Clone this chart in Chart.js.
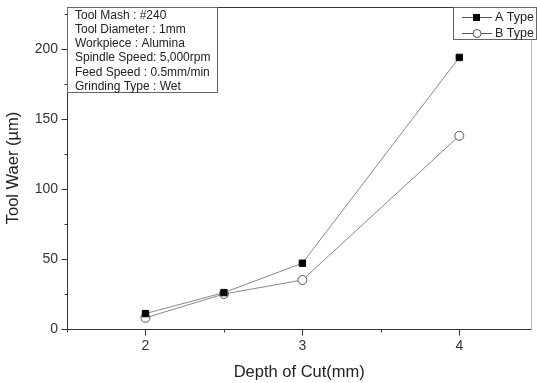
<!DOCTYPE html>
<html><head><meta charset="utf-8">
<script src="https://cdn.jsdelivr.net/npm/chart.js@4"></script>
<style>html,body{margin:0;padding:0;background:#fff}#w{width:537px;height:383px}</style>
</head><body><div id="w"><canvas id="c"></canvas></div>
<script>
const depths = [2, 2.5, 3, 4];
const typeA = [11, 26, 47, 194];
const typeB = [8, 25, 35, 138];
const seriesNames = ['A Type', 'B Type'];
const yTicks = [0, 50, 100, 150, 200];
const xTicks = [2, 3, 4];
const infoLines = ['Tool Mash : #240', 'Tool Diameter : 1mm', 'Workpiece : Alumina', 'Spindle Speed: 5,000rpm', 'Feed Speed : 0.5mm/min', 'Grinding Type : Wet'];

const FONT = '"Liberation Sans", Arial, sans-serif';

const decor = {
  id: 'decor',
  afterDraw(chart) {
    const {ctx, chartArea: a, scales: {x, y}} = chart;
    ctx.save();
    ctx.lineWidth = 1;
    const L = Math.round(a.left) + 0.5, T = Math.round(a.top) + 0.5, R = Math.round(a.right) - 0.5, B = Math.round(a.bottom) + 0.5;
    ctx.strokeStyle = '#bbb';
    ctx.beginPath(); ctx.moveTo(R, T); ctx.lineTo(R, B); ctx.stroke();
    ctx.strokeStyle = '#333';
    ctx.beginPath(); ctx.moveTo(R, T); ctx.lineTo(L, T); ctx.lineTo(L, B); ctx.lineTo(R, B); ctx.stroke();
    for (let v = 1.5; v <= 4.5001; v += 0.5) {
      const px = Math.round(x.getPixelForValue(v)) + 0.5;
      if (px > R) continue;
      const major = Math.abs(v - Math.round(v)) < 1e-6;
      ctx.beginPath();
      ctx.moveTo(px, B);
      ctx.lineTo(px, B + (major ? 6 : 3));
      ctx.stroke();
    }
    for (let v = 0; v <= 225; v += 25) {
      const py = Math.round(y.getPixelForValue(v)) + 0.5;
      const major = v % 50 === 0;
      ctx.beginPath();
      ctx.moveTo(L, py);
      ctx.lineTo(L - (major ? 6 : 3), py);
      ctx.stroke();
    }
    // info box
    ctx.fillStyle = '#fff';
    ctx.fillRect(L, T, 150, 85);
    ctx.strokeStyle = '#666';
    ctx.strokeRect(L, T, 150, 85);
    ctx.fillStyle = '#222';
    ctx.font = '12px ' + FONT;
    ctx.textBaseline = 'middle';
    infoLines.forEach((t, i) => ctx.fillText(t, a.left + 8, a.top + 8.5 + i * 14.2));
    // legend
    const lx = 453.5, rx = 536.5;
    ctx.fillStyle = '#fff';
    ctx.fillRect(lx, T, rx - lx, 32);
    ctx.strokeStyle = '#666';
    ctx.strokeRect(lx, T, rx - lx, 32);
    seriesNames.forEach((n, i) => {
      const yy = T + 10 + i * 16;
      ctx.strokeStyle = '#555';
      ctx.beginPath(); ctx.moveTo(462, yy); ctx.lineTo(492, yy); ctx.stroke();
      if (i === 0) {
        ctx.fillStyle = '#000';
        ctx.fillRect(473, yy - 3.5, 7, 7);
      } else {
        ctx.fillStyle = '#fff';
        ctx.beginPath(); ctx.arc(477, yy, 4, 0, Math.PI * 2); ctx.fill(); ctx.stroke();
      }
      ctx.fillStyle = '#222';
      ctx.font = '12.5px ' + FONT;
      ctx.fillText(n, 495, yy);
    });
    ctx.restore();
  }
};

new Chart(document.getElementById('c'), {
  type: 'scatter',
  data: {
    datasets: [
      {
        label: seriesNames[0],
        data: depths.map((d, i) => ({x: d, y: typeA[i]})),
        showLine: true, borderColor: '#888', borderWidth: 1,
        pointStyle: 'rect', pointRadius: 4.5, pointBackgroundColor: '#000', pointBorderColor: '#000', pointBorderWidth: 1
      },
      {
        label: seriesNames[1],
        data: depths.map((d, i) => ({x: d, y: typeB[i]})),
        showLine: true, borderColor: '#888', borderWidth: 1,
        pointStyle: 'circle', pointRadius: 4.5, pointBackgroundColor: '#fff', pointBorderColor: '#555', pointBorderWidth: 1
      }
    ]
  },
  options: {
    responsive: true, maintainAspectRatio: false, animation: false,
    layout: {padding: {top: 7, right: 5, left: 0, bottom: 0}},
    plugins: {legend: {display: false}, tooltip: {enabled: false}},
    scales: {
      x: {
        type: 'linear', min: 1.5, max: 4.46,
        afterFit: s => { s.height = 54; s.paddingLeft = 0; s.paddingRight = 0; },
        afterBuildTicks: s => { s.ticks = xTicks.map(v => ({value: v})); },
        grid: {display: false}, border: {display: false},
        ticks: {padding: 1, color: '#333', font: {family: FONT, size: 14}},
        title: {display: true, text: 'Depth of Cut(mm)', color: '#222', font: {family: FONT, size: 16.5}, padding: {top: 0, bottom: 1}}
      },
      y: {
        min: 0, max: 230,
        afterFit: s => { s.width = 67; s.paddingTop = 0; s.paddingBottom = 0; },
        afterBuildTicks: s => { s.ticks = yTicks.map(v => ({value: v})); },
        grid: {display: false}, border: {display: false},
        ticks: {padding: 1, color: '#333', font: {family: FONT, size: 14}},
        title: {display: true, text: 'Tool Waer (µm)', color: '#222', font: {family: FONT, size: 16.5}, padding: {top: 4, bottom: 0}}
      }
    }
  },
  plugins: [decor]
});
</script></body></html>
